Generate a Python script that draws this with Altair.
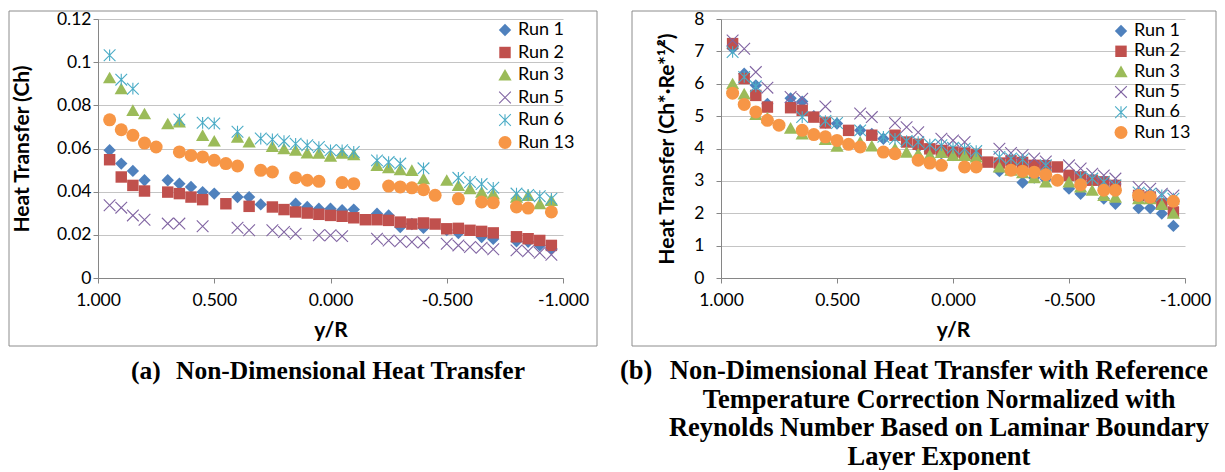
import altair as alt
import pandas as pd

# ---------------- data ----------------
RUNS = ["Run 1", "Run 2", "Run 3", "Run 5", "Run 6", "Run 13"]
COLORS = ["#4F81BD", "#C0504D", "#9BBB59", "#8064A2", "#4BACC6", "#F79646"]

run1_yr = [0.95, 0.90, 0.85, 0.80, 0.70, 0.65, 0.60, 0.55, 0.50, 0.40, 0.35, 0.30, 0.15, 0.10, 0.05, 0.00,
           -0.05, -0.10, -0.20, -0.25, -0.30, -0.35, -0.40, -0.50, -0.55, -0.65, -0.70, -0.80, -0.85, -0.90, -0.95]
run1_ch = [0.0592, 0.0530, 0.0496, 0.0453, 0.0453, 0.0437, 0.0422, 0.0398, 0.0391, 0.0375, 0.0375, 0.0341, 0.0344,
           0.0329, 0.0321, 0.0321, 0.0314, 0.0317, 0.0298, 0.0290, 0.0236, 0.0250, 0.0232, 0.0222, 0.0208, 0.0190,
           0.0181, 0.0170, 0.0168, 0.0151, 0.0136]
run1_norm = [7.10, 6.31, 5.95, 5.38, 5.55, 5.45, 5.00, 4.80, 4.77, 4.56, 4.45, 4.30, 4.05, 3.90, 3.85, 3.80, 3.75,
             3.70, 3.30, 3.35, 2.95, 3.10, 3.05, 2.76, 2.60, 2.45, 2.29, 2.16, 2.16, 1.99, 1.61]

run2_yr = [0.95, 0.90, 0.85, 0.80, 0.70, 0.65, 0.60, 0.55, 0.45, 0.35, 0.25, 0.20, 0.15, 0.10, 0.05, 0.00,
           -0.05, -0.10, -0.15, -0.20, -0.25, -0.30, -0.35, -0.40, -0.45, -0.50, -0.55, -0.60, -0.65, -0.70,
           -0.80, -0.85, -0.90, -0.95]
run2_ch = [0.0548, 0.0468, 0.0429, 0.0403, 0.0398, 0.0391, 0.0375, 0.0363, 0.0344, 0.0332, 0.0329, 0.0317, 0.0306,
           0.0301, 0.0295, 0.0290, 0.0286, 0.0279, 0.0270, 0.0270, 0.0267, 0.0259, 0.0250, 0.0255, 0.0250, 0.0228,
           0.0230, 0.0221, 0.0216, 0.0209, 0.0191, 0.0182, 0.0174, 0.0151]
run2_norm = [7.24, 6.16, 5.64, 5.28, 5.26, 5.18, 4.97, 4.79, 4.56, 4.41, 4.41, 4.20, 4.13, 3.99, 3.94, 3.89, 3.86,
             3.82, 3.58, 3.55, 3.62, 3.57, 3.48, 3.47, 3.43, 3.17, 3.12, 3.02, 2.97, 2.86, 2.55, 2.50, 2.29, 2.04]

run3_yr = [0.95, 0.90, 0.85, 0.80, 0.70, 0.65, 0.55, 0.50, 0.40, 0.35, 0.25, 0.20, 0.15, 0.10, 0.05, 0.00,
           -0.05, -0.10, -0.20, -0.25, -0.30, -0.35, -0.40, -0.50, -0.55, -0.60, -0.65, -0.70, -0.80, -0.85,
           -0.90, -0.95]
run3_ch = [0.0928, 0.0877, 0.0777, 0.0761, 0.0715, 0.0723, 0.0661, 0.0635, 0.0653, 0.0630, 0.0610, 0.0599, 0.0592,
           0.0580, 0.0578, 0.0565, 0.0578, 0.0572, 0.0522, 0.0511, 0.0502, 0.0499, 0.0460, 0.0453, 0.0429, 0.0414,
           0.0398, 0.0391, 0.0375, 0.0383, 0.0344, 0.0360]
run3_norm = [6.00, 5.69, 5.05, 4.95, 4.63, 4.45, 4.28, 4.07, 4.20, 4.08, 4.00, 3.89, 3.84, 3.80, 3.88, 3.79, 3.79,
             3.74, 3.43, 3.33, 3.25, 3.10, 2.97, 2.97, 2.81, 2.71, 2.55, 2.50, 2.45, 2.45, 2.27, 2.00]

run5_yr = [0.95, 0.90, 0.85, 0.80, 0.70, 0.65, 0.55, 0.40, 0.35, 0.25, 0.20, 0.15, 0.05, 0.00, -0.05, -0.20,
           -0.25, -0.30, -0.35, -0.40, -0.50, -0.55, -0.60, -0.65, -0.70, -0.80, -0.85, -0.90, -0.95]
run5_ch = [0.0337, 0.0326, 0.0290, 0.0270, 0.0252, 0.0252, 0.0240, 0.0233, 0.0221, 0.0221, 0.0213, 0.0205, 0.0198,
           0.0198, 0.0194, 0.0182, 0.0174, 0.0170, 0.0167, 0.0164, 0.0159, 0.0151, 0.0144, 0.0140, 0.0133, 0.0128,
           0.0124, 0.0117, 0.0108]
run5_norm = [7.34, 7.08, 6.36, 5.88, 5.59, 5.54, 5.30, 5.08, 4.97, 4.79, 4.66, 4.50, 4.30, 4.25, 4.20, 3.99, 3.86,
             3.80, 3.69, 3.60, 3.48, 3.38, 3.22, 3.17, 3.07, 2.81, 2.76, 2.60, 2.55]

run6_yr = [0.95, 0.90, 0.85, 0.65, 0.55, 0.50, 0.40, 0.30, 0.25, 0.20, 0.15, 0.10, 0.05, 0.00, -0.05, -0.10,
           -0.20, -0.25, -0.30, -0.40, -0.55, -0.60, -0.65, -0.70, -0.80, -0.85, -0.90, -0.95]
run6_ch = [0.1032, 0.0919, 0.0877, 0.0734, 0.0719, 0.0716, 0.0678, 0.0646, 0.0642, 0.0634, 0.0622, 0.0615, 0.0607,
           0.0592, 0.0592, 0.0584, 0.0545, 0.0537, 0.0530, 0.0508, 0.0464, 0.0445, 0.0435, 0.0418, 0.0391, 0.0385,
           0.0379, 0.0367]
run6_norm = [6.98, 6.21, 5.92, 4.97, 4.85, 4.79, 4.56, 4.36, 4.30, 4.23, 4.20, 4.12, 4.10, 4.02, 3.99, 3.92, 3.74,
             3.69, 3.66, 3.48, 3.12, 3.07, 2.97, 2.86, 2.64, 2.60, 2.55, 2.45]

run13_yr = [0.95, 0.90, 0.85, 0.80, 0.75, 0.65, 0.60, 0.55, 0.50, 0.45, 0.40, 0.30, 0.25, 0.15, 0.10, 0.05,
            -0.05, -0.10, -0.25, -0.30, -0.35, -0.40, -0.45, -0.55, -0.65, -0.70, -0.80, -0.85, -0.95]
run13_ch = [0.0733, 0.0687, 0.0661, 0.0625, 0.0607, 0.0584, 0.0568, 0.0561, 0.0545, 0.0530, 0.0519, 0.0499, 0.0491,
            0.0465, 0.0453, 0.0448, 0.0442, 0.0437, 0.0426, 0.0422, 0.0418, 0.0409, 0.0383, 0.0367, 0.0352, 0.0349,
            0.0329, 0.0324, 0.0306]
run13_norm = [5.71, 5.36, 5.13, 4.87, 4.72, 4.56, 4.43, 4.36, 4.25, 4.13, 4.05, 3.89, 3.84, 3.64, 3.55, 3.48, 3.43,
              3.43, 3.33, 3.30, 3.27, 3.19, 3.02, 2.88, 2.71, 2.71, 2.55, 2.50, 2.37]

X_TICKS = [1.0, 0.5, 0.0, -0.5, -1.0]
CH_TICKS = [0, 0.02, 0.04, 0.06, 0.08, 0.1, 0.12]
NORM_TICKS = [0, 1, 2, 3, 4, 5, 6, 7, 8]

CAPTION_A_LABEL = "(a)"
CAPTION_A_TEXT = "Non-Dimensional Heat Transfer"
CAPTION_B_LABEL = "(b)"
CAPTION_B_LINES = ["Non-Dimensional Heat Transfer with Reference",
                   "Temperature Correction Normalized with",
                   "Reynolds Number Based on Laminar Boundary",
                   "Layer Exponent"]

series = [
    ("Run 1", run1_yr, run1_ch, run1_norm),
    ("Run 2", run2_yr, run2_ch, run2_norm),
    ("Run 3", run3_yr, run3_ch, run3_norm),
    ("Run 5", run5_yr, run5_ch, run5_norm),
    ("Run 6", run6_yr, run6_ch, run6_norm),
    ("Run 13", run13_yr, run13_ch, run13_norm),
]
rows = []
for name, xs, chs, norms in series:
    for xv, c, n in zip(xs, chs, norms):
        rows.append({"run": name, "yR": xv, "ch": c, "norm": n})
df = pd.DataFrame(rows)


# ---------------- marker shapes ----------------
def x_path(e=0.9, a=0.06):
    p1 = f"M{e-a},{e+a}L{e+a},{e-a}L{-e+a},{-e-a}L{-e-a},{-e+a}Z"
    p2 = f"M{e+a},{-e+a}L{e-a},{-e-a}L{-e-a},{e-a}L{-e+a},{e+a}Z"
    return p1 + p2


def star_path(e=0.9, a=0.06, b=0.085):
    return x_path(e, a) + f"M{-b},{-e}L{-b},{e}L{b},{e}L{b},{-e}Z"


SHAPES = [
    "M0,-0.95L0.95,0L0,0.95L-0.95,0Z",
    "M-0.88,-0.88L0.88,-0.88L0.88,0.88L-0.88,0.88Z",
    "M0,-0.92L1.02,0.86L-1.02,0.86Z",
    x_path(),
    star_path(),
    "circle",
]

LABEL_FONT = "Lato"
SERIF = "Liberation Serif"
AXIS_GRAY = "#868686"
LABEL_SIZE = 17.5
LEGEND_SIZE = 18
TITLE_SIZE = 21


def panel(field, ydomain, yticks, ytitle, ylabel_expr, width, height, y_lab_pad, y_title_x,
          legend_x, legend_y, legend_row_pad, border, captions):
    leg = alt.Legend(orient="none", legendX=legend_x, legendY=legend_y, title=None,
                     labelFont=LABEL_FONT, labelFontSize=LEGEND_SIZE, labelColor="#000000",
                     symbolSize=169, symbolStrokeWidth=0, rowPadding=legend_row_pad,
                     labelOffset=4, padding=0)
    pts = alt.Chart(df).mark_point(filled=True, size=169, opacity=1, strokeWidth=0).encode(
        x=alt.X("yR:Q",
                scale=alt.Scale(domain=[-1, 1], reverse=True, nice=False, zero=False),
                axis=alt.Axis(values=X_TICKS, grid=False, title="y/R", labelFlush=False,
                              labelExpr="replace(format(datum.value, '.3f'), '\u2212', '-')",
                              tickSize=5, labelPadding=8, titleY=41, titleBaseline="top")),
        y=alt.Y(f"{field}:Q",
                scale=alt.Scale(domain=ydomain, nice=False, zero=True),
                axis=alt.Axis(values=yticks, labelExpr=ylabel_expr, title=ytitle, grid=True,
                              tickSize=5, labelPadding=y_lab_pad, labelFlush=False,
                              titleX=y_title_x, titleBaseline="bottom")),
        color=alt.Color("run:N", scale=alt.Scale(domain=RUNS, range=COLORS), legend=leg),
        shape=alt.Shape("run:N", scale=alt.Scale(domain=RUNS, range=SHAPES), legend=leg),
    )

    bx0, bx1, by0, by1 = border
    frame = alt.Chart(alt.Data(values=[{"k": 0}])).mark_rect(
        fillOpacity=0, stroke="#8C8C8C", strokeWidth=1
    ).encode(x=alt.value(bx0), x2=alt.value(bx1), y=alt.value(by0), y2=alt.value(by1))

    layers = [frame, pts]
    for txt, xpos, ypos, align, fsize in captions:
        layers.append(
            alt.Chart(alt.Data(values=[{"k": 0}])).mark_text(
                text=txt, font=SERIF, fontSize=fsize, fontWeight="bold", align=align,
                baseline="alphabetic", lineHeight=28.5, color="#000000"
            ).encode(x=alt.value(xpos), y=alt.value(ypos))
        )
    return alt.layer(*layers).properties(width=width, height=height)


left = panel("ch", [0, 0.12], CH_TICKS, "Heat Transfer (Ch)",
             "format(datum.value, '.2~f')", 465, 259, 2, -66,
             398, 2, 4.5, (-89, 499, -8, 327),
             [(CAPTION_A_LABEL, 33, 360, "left", 25.5), (CAPTION_A_TEXT, 78, 360, "left", 25.5)])

right = panel("norm", [0, 8], NORM_TICKS, "Heat Transfer (Ch*\u00b7Re*\u00b9\u2044\u00b2)",
              "format(datum.value, 'd')", 464, 259, 12, -44,
              391, 3, 2.3, (-89, 495, -8, 327),
              [(CAPTION_B_LABEL, -101, 360, "left", 26.5), (CAPTION_B_LINES, 218, 360, "center", 26.5)])

chart = alt.hconcat(left, right, spacing=158, bounds="flush").resolve_scale(
    color="independent", shape="independent"
).properties(
    padding={"left": 0, "top": 2, "right": 0, "bottom": 0}
).configure_view(stroke=None).configure_axis(
    labelFont=LABEL_FONT, labelFontSize=LABEL_SIZE, labelColor="#000000",
    titleFont=LABEL_FONT, titleFontSize=TITLE_SIZE, titleFontWeight="bold", titleColor="#000000",
    domainColor=AXIS_GRAY, tickColor=AXIS_GRAY, gridColor="#C4C4C4", domainWidth=1, gridWidth=1
).configure_legend(
    labelFont=LABEL_FONT, labelFontSize=LEGEND_SIZE, labelColor="#000000"
)

chart.save("out.html", embed_options={"renderer": "svg", "actions": False})
